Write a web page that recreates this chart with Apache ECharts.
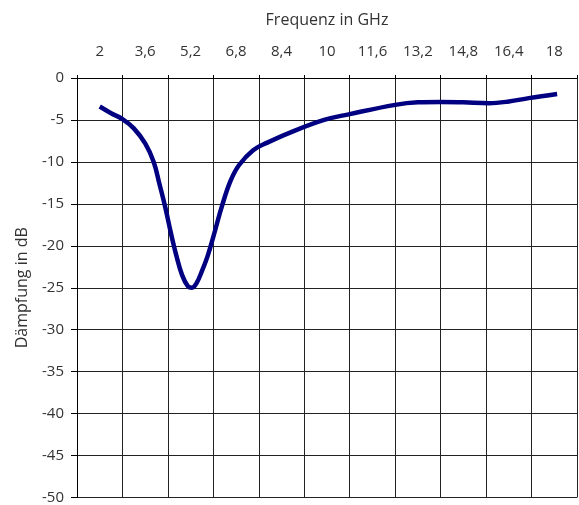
<!DOCTYPE html>
<html>
<head>
<meta charset="utf-8">
<script src="https://cdn.jsdelivr.net/npm/echarts@6/dist/echarts.min.js"></script>
<style>html,body{margin:0;padding:0;background:#fff;}#c{width:579px;height:505px;}</style>
</head>
<body>
<div id="c"></div>
<script>
var tickLabels = ['2','3,6','5,2','6,8','8,4','10','11,6','13,2','14,8','16,4','18'];
var freq = [2.0, 2.4, 2.8, 3.2, 3.6, 3.9, 4.1, 4.3, 4.5, 4.7, 4.9, 5.1, 5.25, 5.4, 5.6, 5.8, 6.0, 6.3, 6.6, 6.9, 7.4, 7.9, 8.7, 9.9, 10.8, 12.4, 13.2, 14.0, 14.8, 15.7, 16.4, 17.1, 18.1];
var daempfung = [-3.4, -4.2, -4.9, -6.0, -7.8, -10.0, -12.6, -15.3, -18.4, -21.2, -23.5, -24.8, -25.0, -24.5, -23.0, -21.2, -18.9, -15.3, -12.3, -10.4, -8.6, -7.7, -6.5, -5.0, -4.3, -3.2, -2.9, -2.85, -2.9, -3.0, -2.8, -2.4, -1.9];

var pts = freq.map(function(f, i){ return [f, daempfung[i]]; });
var font = 'Open Sans';
var chart = echarts.init(document.getElementById('c'));
chart.setOption({
  animation: false,
  grid: {left: 77, right: 2, top: 78, bottom: 7, containLabel: false},
  xAxis: [{
    type: 'category', position: 'top', data: tickLabels, boundaryGap: true,
    name: 'Frequenz in GHz', nameLocation: 'middle', nameGap: 50,
    nameTextStyle: {fontFamily: font, fontSize: 16, color: '#333'},
    axisLine: {show: true, lineStyle: {color: '#000', width: 1}},
    axisTick: {show: true, length: 3, lineStyle: {color: '#000'}},
    axisLabel: {fontFamily: font, fontSize: 15, color: '#333', margin: 19},
    splitLine: {show: true, lineStyle: {color: '#222', width: 1}}
  }, {
    type: 'value', min: 1.2, max: 18.8, show: false
  }],
  yAxis: {
    type: 'value', min: -50, max: 0, interval: 5,
    name: 'Dämpfung in dB', nameLocation: 'middle', nameGap: 47, nameRotate: 90,
    nameTextStyle: {fontFamily: font, fontSize: 16, color: '#333'},
    axisLine: {show: true, lineStyle: {color: '#000', width: 1}},
    axisTick: {show: true, length: 6, lineStyle: {color: '#000'}},
    axisLabel: {fontFamily: font, fontSize: 15, color: '#333', margin: 13},
    splitLine: {show: true, lineStyle: {color: '#222', width: 1}}
  },
  series: [{
    type: 'line', xAxisIndex: 1, data: pts, smooth: 0.4, showSymbol: false,
    lineStyle: {color: '#000080', width: 4.5}
  }]
});
</script>
</body>
</html>
